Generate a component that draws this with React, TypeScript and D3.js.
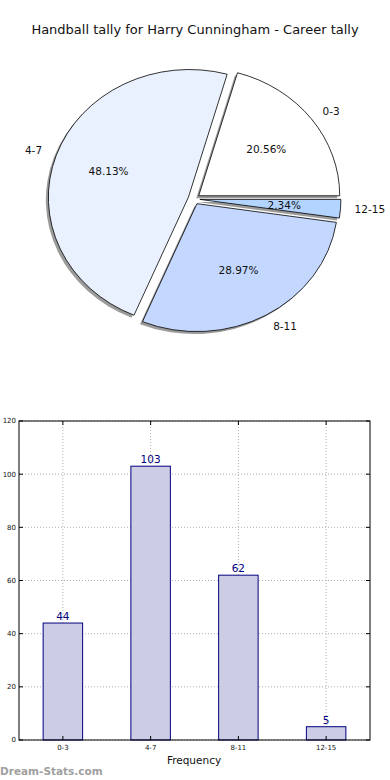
import React from 'react';
import * as d3 from 'd3';

const categories = ['0-3', '4-7', '8-11', '12-15'];
const counts = [44, 103, 62, 5];
const pieColors = ['#ffffff', '#eaf1fe', '#c4d8ff', '#b3d4ff'];
const yTicks = [0, 20, 40, 60, 80, 100, 120];

const W = 390;
const H = 780;
const FONT = 'DejaVu Sans, sans-serif';

const App: React.FC = () => {
  // pie geometry (matplotlib style: counter-clockwise from 3 o'clock, ellipse because of aspect)
  const cx = 194;
  const cy = 199;
  const rx = 141;
  const ry = 128;
  const explode = 0.042;
  const total = d3.sum(counts);

  let acc = 0;
  const slices = counts.map((v, i) => {
    const t1 = (acc / total) * 2 * Math.PI;
    acc += v;
    const t2 = (acc / total) * 2 * Math.PI;
    const mid = (t1 + t2) / 2;
    return { i, v, t1, t2, mid, dx: Math.cos(mid) * explode * rx, dy: -Math.sin(mid) * explode * ry };
  });

  const arc = d3.arc<any>().innerRadius(0).outerRadius(1);
  const pathFor = (s: typeof slices[number]) =>
    arc({ startAngle: Math.PI / 2 - s.t2, endAngle: Math.PI / 2 - s.t1 }) as string;

  // bar chart
  const margin = { left: 19, right: 20, top: 421, bottom: 40 };
  const x = d3.scaleLinear().domain([-0.5, 3.5]).range([margin.left, W - margin.right]);
  const y = d3.scaleLinear().domain([0, 120]).range([H - margin.bottom, margin.top]);
  const barW = x(0.45) - x(0);

  return (
    <svg width={W} height={H} style={{ position: 'absolute', left: 0, top: 0, background: '#fff' }}>
      <text x={195} y={34} textAnchor="middle" fontFamily={FONT} fontSize={13} fill="#111">
        Handball tally for Harry Cunningham - Career tally
      </text>

      {/* shadows */}
      {slices.map(s => (
        <path
          key={'sh' + s.i}
          d={pathFor(s)}
          transform={`translate(${cx + s.dx - 2.5},${cy + s.dy + 2.5}) scale(${rx},${ry})`}
          fill="#8a8a8a"
          opacity={0.85}
        />
      ))}
      {slices.map(s => (
        <path
          key={'sl' + s.i}
          d={pathFor(s)}
          transform={`translate(${cx + s.dx},${cy + s.dy}) scale(${rx},${ry})`}
          fill={pieColors[s.i]}
          stroke="#000"
          strokeWidth={0.8}
          vectorEffect="non-scaling-stroke"
        />
      ))}
      {slices.map(s => {
        const lx = cx + s.dx + Math.cos(s.mid) * 1.1 * rx;
        const ly = cy + s.dy - Math.sin(s.mid) * 1.1 * ry;
        const px = cx + s.dx + Math.cos(s.mid) * 0.6 * rx;
        const py = cy + s.dy - Math.sin(s.mid) * 0.6 * ry;
        return (
          <g key={'lb' + s.i} fontFamily={FONT} fontSize={10.5} fill="#111">
            <text x={lx} y={ly} dy="0.35em" textAnchor={Math.cos(s.mid) > 0 ? 'start' : 'end'}>
              {categories[s.i]}
            </text>
            <text x={px} y={py} dy="0.35em" textAnchor="middle">
              {((s.v / total) * 100).toFixed(2) + '%'}
            </text>
          </g>
        );
      })}

      {/* bar chart grid */}
      <g stroke="#b0b0b0" strokeWidth={1} strokeDasharray="1,2">
        {yTicks.map(t => (
          <line key={'gy' + t} x1={x(-0.5)} x2={x(3.5)} y1={y(t)} y2={y(t)} />
        ))}
        {categories.map((c, i) => (
          <line key={'gx' + c} x1={x(i)} x2={x(i)} y1={y(0)} y2={y(120)} />
        ))}
      </g>

      {counts.map((v, i) => (
        <g key={'bar' + i}>
          <rect
            x={x(i) - barW / 2}
            y={y(v)}
            width={barW}
            height={y(0) - y(v)}
            fill="#ccccE5"
            stroke="#000080"
            strokeWidth={1}
          />
          <text x={x(i)} y={y(v) - 3} textAnchor="middle" fontFamily={FONT} fontSize={10.5} fill="#000080">
            {v}
          </text>
        </g>
      ))}

      {/* ticks */}
      <g stroke="#000" strokeWidth={1}>
        {yTicks.map(t => (
          <g key={'ty' + t}>
            <line x1={x(-0.5)} x2={x(-0.5) + 4} y1={y(t)} y2={y(t)} />
            <line x1={x(3.5)} x2={x(3.5) - 4} y1={y(t)} y2={y(t)} />
          </g>
        ))}
        {categories.map((c, i) => (
          <g key={'tx' + c}>
            <line x1={x(i)} x2={x(i)} y1={y(0)} y2={y(0) - 4} />
            <line x1={x(i)} x2={x(i)} y1={y(120)} y2={y(120) + 4} />
          </g>
        ))}
      </g>
      <rect
        x={x(-0.5)}
        y={y(120)}
        width={x(3.5) - x(-0.5)}
        height={y(0) - y(120)}
        fill="none"
        stroke="#000"
        strokeWidth={1}
      />

      <g fontFamily={FONT} fontSize={7} fill="#111">
        {yTicks.map(t => (
          <text key={'ly' + t} x={x(-0.5) - 3} y={y(t)} dy="0.35em" textAnchor="end">
            {t}
          </text>
        ))}
        {categories.map((c, i) => (
          <text key={'lx' + c} x={x(i)} y={y(0) + 10} textAnchor="middle">
            {c}
          </text>
        ))}
      </g>
      <text x={194} y={764} textAnchor="middle" fontFamily={FONT} fontSize={10.5} fill="#111">
        Frequency
      </text>
      <text x={0} y={775} fontFamily={FONT} fontSize={10.5} fontWeight="bold" fill="#a0a0a0">
        Dream-Stats.com
      </text>
    </svg>
  );
};

export default App;
